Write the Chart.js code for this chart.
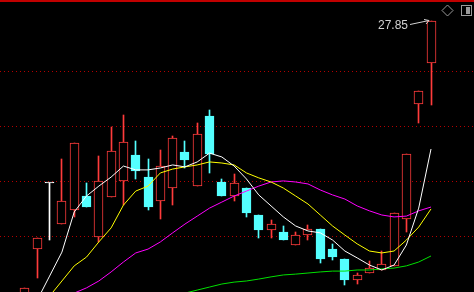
<!DOCTYPE html>
<html>
<head>
<meta charset="utf-8">
<script src="https://cdn.jsdelivr.net/npm/chart.js@4.4.1/dist/chart.umd.min.js"></script>
<style>
html,body{margin:0;padding:0;background:#000;overflow:hidden;}
#wrap{width:474px;height:292px;}
</style>
</head>
<body>
<div id="wrap"><canvas id="c" width="474" height="292"></canvas></div>
<script>
// ---- data ----
const opens  = [17.9, 19.56, 21.96, 20.47, 20.98, 21.49, 20.0, 21.45, 22.04, 22.98, 22.18, 21.31, 21.78, 23.09, 21.85, 24.4, 22.0, 21.49, 21.78, 20.8, 20.25, 20.18, 19.71, 20.07, 20.29, 19.56, 19.2, 18.44, 18.69, 18.8, 18.95, 20.65, 24.84, 26.33];
const highs  = [18.15, 19.96, 21.96, 22.84, 23.42, 21.96, 22.95, 24.0, 24.44, 23.49, 22.84, 23.16, 23.67, 23.49, 24.15, 24.62, 22.11, 22.29, 21.78, 20.8, 20.62, 20.4, 20.18, 20.44, 20.29, 19.75, 19.2, 18.69, 19.13, 19.49, 20.87, 23.02, 25.31, 27.85];
const lows   = [17.8, 18.51, 19.89, 20.47, 20.73, 21.09, 19.82, 21.45, 21.16, 22.11, 20.98, 20.65, 21.16, 22.51, 21.85, 22.33, 21.49, 21.31, 20.73, 19.96, 19.96, 19.89, 19.71, 19.89, 19.05, 19.16, 18.25, 18.29, 18.69, 18.8, 18.95, 20.18, 24.15, 24.8];
const closes = [18.15, 19.96, 21.96, 21.31, 23.42, 21.09, 22.04, 23.13, 23.45, 22.4, 21.09, 22.58, 23.6, 22.8, 23.75, 23.02, 21.49, 21.96, 20.87, 20.25, 20.47, 19.89, 20.07, 20.29, 19.2, 19.27, 18.44, 18.62, 18.87, 19.02, 20.87, 23.02, 25.31, 27.85];
const ma5    = [null, 17.71, 18.58, 19.45, 20.91, 21.49, 21.85, 22.18, 22.58, 22.44, 22.44, 22.51, 22.62, 22.55, 22.73, 23.05, 22.91, 22.58, 22.11, 21.53, 21.13, 20.73, 20.4, 20.22, 20.15, 19.89, 19.49, 19.24, 18.98, 18.8, 18.98, 19.71, 21.05, 23.2];
const ma10   = [null, null, 17.85, 18.4, 18.95, 19.27, 19.82, 20.33, 21.16, 21.67, 21.85, 22.33, 22.47, 22.55, 22.62, 22.73, 22.69, 22.62, 22.33, 22.15, 22.0, 21.78, 21.49, 21.2, 20.8, 20.4, 20.07, 19.75, 19.49, 19.42, 19.49, 19.89, 20.36, 21.02];
const ma20   = [null, null, null, 17.71, 17.96, 18.15, 18.4, 18.73, 19.09, 19.42, 19.56, 19.82, 20.15, 20.47, 20.76, 21.05, 21.27, 21.49, 21.67, 21.85, 22.0, 22.04, 22.0, 21.93, 21.71, 21.53, 21.38, 21.13, 20.95, 20.8, 20.73, 20.76, 20.95, 21.09];
const ma60   = [null, null, null, null, null, null, null, null, null, null, null, null, 17.82, 17.96, 18.07, 18.18, 18.29, 18.36, 18.4, 18.47, 18.55, 18.62, 18.65, 18.69, 18.73, 18.76, 18.76, 18.8, 18.8, 18.84, 18.87, 18.95, 19.09, 19.31];
const gridValues = [20, 22, 24, 26];
const highLabel = "27.85";

// ---- styles ----
const UP = '#ff3b3b', DOWN = '#54ffff', FLAT = '#ffffff';
const dirColor = i => closes[i] > opens[i] ? UP : (closes[i] < opens[i] ? DOWN : FLAT);
const fillColor = i => closes[i] > opens[i] ? '#000000' : dirColor(i);

const idx = opens.map((_, i) => i + 1);
const bodies = idx.map((x, i) => ({x, y: [opens[i], closes[i]]}));
const wicks  = idx.map((x, i) => ({x, y: [lows[i], highs[i]]}));
const line = arr => idx.map((x, i) => ({x, y: arr[i]}));

const bgPlugin = {
  id: 'bg',
  beforeDraw(chart) {
    const c = chart.ctx;
    c.save();
    c.fillStyle = '#000';
    c.fillRect(0, 0, chart.width, chart.height);
    c.restore();
  },
  beforeDatasetsDraw(chart) {
    // snap candle elements to the pixel grid so they render crisply
    chart.data.datasets.forEach((ds, di) => {
      const meta = chart.getDatasetMeta(di);
      if (meta.type !== 'bar') return;
      meta.data.forEach(el => {
        el.x = Math.floor(el.x) + 0.5;
        const top = Math.round(Math.min(el.y, el.base));
        let bot = Math.round(Math.max(el.y, el.base));
        if (bot <= top) bot = top + 1;
        el.y = top; el.base = bot;
      });
    });
  },
  afterDraw(chart) {
    const c = chart.ctx;
    const xs = chart.scales.x, ys = chart.scales.y;
    c.save();
    // top border
    c.fillStyle = '#c00000';
    c.fillRect(0, 0, chart.width, 2);
    // high annotation
    const last = highs.length - 1;
    const ax = Math.floor(xs.getPixelForValue(last + 1)) - 2;
    const ay = Math.round(ys.getPixelForValue(highs[last]));
    c.font = '12px "Liberation Sans", Arial, sans-serif';
    c.fillStyle = '#d2d2d2';
    c.textAlign = 'right';
    c.textBaseline = 'middle';
    c.fillText(highLabel, ax - 21, ay + 5);
    c.strokeStyle = '#d2d2d2';
    c.lineWidth = 1;
    c.beginPath();
    c.moveTo(ax - 19, ay + 3.5);
    c.lineTo(ax, ay - 0.5);
    c.moveTo(ax - 5, ay - 1.5);
    c.lineTo(ax, ay - 0.5);
    c.lineTo(ax - 3, ay + 3);
    c.stroke();
    // icons
    c.strokeStyle = '#9a9a9a';
    c.beginPath();
    c.moveTo(447.5, 5); c.lineTo(453, 10.5); c.lineTo(447.5, 16); c.lineTo(442, 10.5); c.closePath();
    c.stroke();
    c.strokeRect(461.5, 5.5, 10, 10);
    c.fillStyle = '#9a9a9a';
    c.fillRect(466, 7, 4, 7);
    c.restore();
  }
};

new Chart(document.getElementById('c'), {
  type: 'bar',
  data: {
    datasets: [
      {type: 'line', data: line(ma5),  borderColor: '#ffffff', borderWidth: 1, pointRadius: 0, tension: 0, order: -4},
      {type: 'line', data: line(ma10), borderColor: '#ffff00', borderWidth: 1, pointRadius: 0, tension: 0, order: -3},
      {type: 'line', data: line(ma20), borderColor: '#ff00ff', borderWidth: 1, pointRadius: 0, tension: 0, order: -2},
      {type: 'line', data: line(ma60), borderColor: '#00e000', borderWidth: 1, pointRadius: 0, tension: 0, order: -1},
      {data: bodies, grouped: false, barThickness: 9, minBarLength: 1, borderSkipped: false, borderWidth: 1,
       borderColor: idx.map((_, i) => dirColor(i)), backgroundColor: idx.map((_, i) => fillColor(i)), order: 1},
      {data: wicks, grouped: false, barThickness: 1, borderWidth: 0, borderSkipped: false,
       backgroundColor: idx.map((_, i) => dirColor(i)), order: 2}
    ]
  },
  options: {
    responsive: false,
    animation: false,
    events: [],
    layout: {padding: 0},
    plugins: {legend: {display: false}, tooltip: {enabled: false}},
    scales: {
      x: {type: 'linear', min: -1.032, max: 37.495, offset: false, display: false},
      y: {
        type: 'linear', min: 18, max: 28.618, position: 'left',
        afterBuildTicks: s => { s.ticks = gridValues.map(v => ({value: v})); },
        ticks: {display: false},
        grid: {color: '#b40000', lineWidth: 1, drawTicks: false, tickLength: 0},
        border: {display: false, dash: [1, 3]}
      }
    }
  },
  plugins: [bgPlugin]
});
</script>
</body>
</html>
